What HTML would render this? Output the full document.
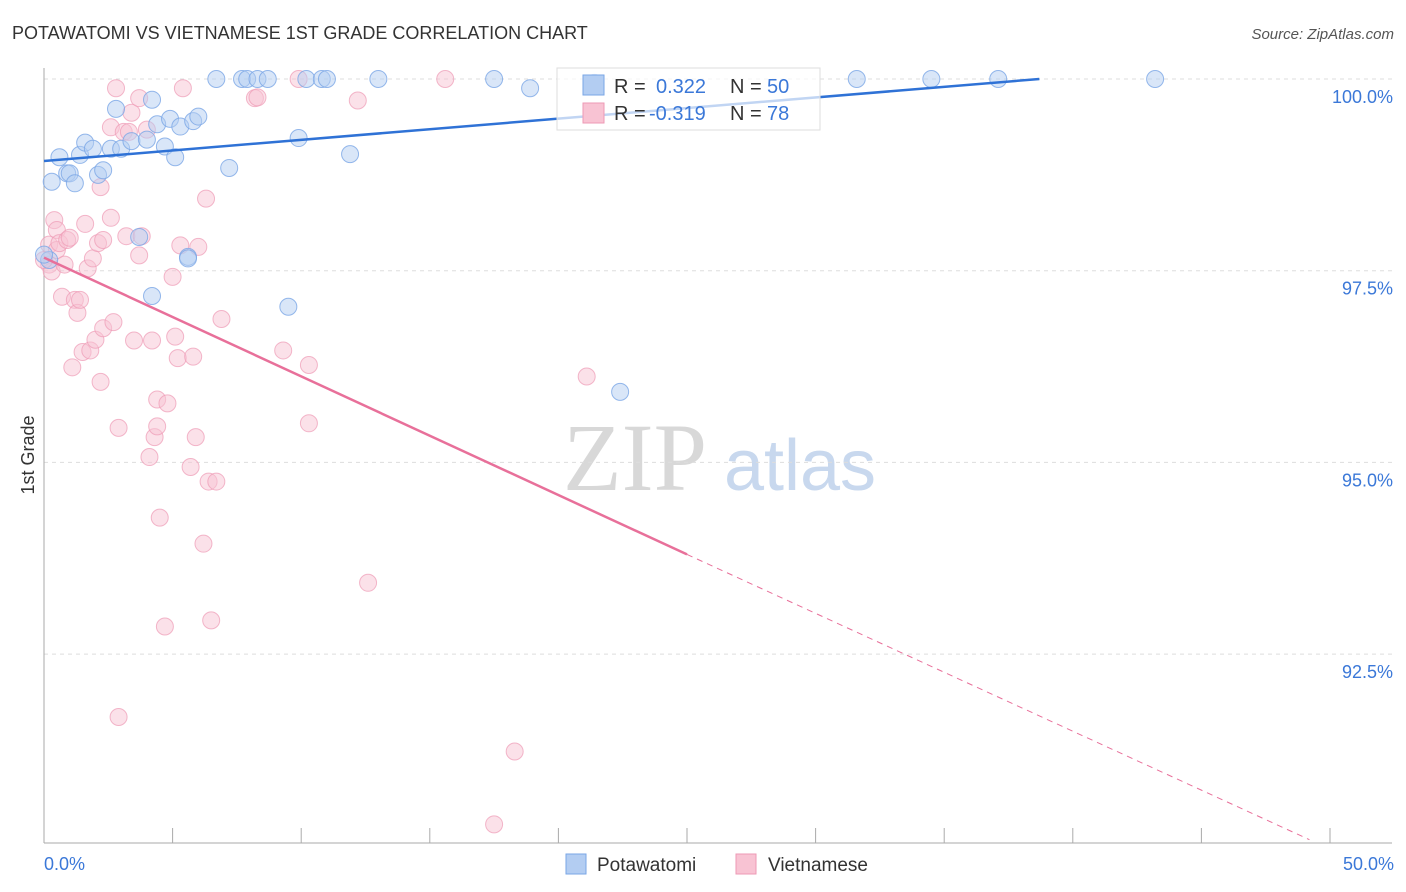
<!DOCTYPE html>
<html><head><meta charset="utf-8"><style>
body{margin:0;background:#fff;font-family:"Liberation Sans",sans-serif;}
svg{display:block}
</style></head><body>
<svg id="chart" width="1406" height="892">
<text x="12" y="39" font-size="18" fill="#333">POTAWATOMI VS VIETNAMESE 1ST GRADE CORRELATION CHART</text>
<text x="1394" y="39" font-size="15" fill="#555" font-style="italic" text-anchor="end">Source: ZipAtlas.com</text>
<text x="635" y="490" font-size="96" fill="#d8d8d8" text-anchor="middle" font-family="Liberation Serif,serif">ZIP</text>
<text x="800" y="490" font-size="72" fill="#c8d8ee" text-anchor="middle">atlas</text>
<text transform="translate(34,455) rotate(-90)" font-size="18" fill="#333" text-anchor="middle">1st Grade</text>
<g id="grid"></g><g id="marks"></g>
<g>
<rect x="557" y="68" width="263" height="62" fill="#fff" fill-opacity="0.7" stroke="#ddd"/>
<rect x="583" y="75" width="21" height="20" fill="#b3cdf2" stroke="#7aa6e6"/>
<rect x="583" y="103" width="21" height="20" fill="#f8c3d3" stroke="#ee9ab5"/>
<text x="614" y="93" font-size="20" fill="#333">R = </text><text x="656" y="93" font-size="20" fill="#3b78d8">0.322</text>
<text x="730" y="93" font-size="20" fill="#333">N = </text><text x="767" y="93" font-size="20" fill="#3b78d8">50</text>
<text x="614" y="120" font-size="20" fill="#333">R = </text><text x="649" y="120" font-size="20" fill="#3b78d8">-0.319</text>
<text x="730" y="120" font-size="20" fill="#333">N = </text><text x="767" y="120" font-size="20" fill="#3b78d8">78</text>
</g>
<g>
<rect x="566" y="854" width="20" height="20" fill="#b3cdf2" stroke="#7aa6e6"/>
<text x="597" y="871" font-size="19" fill="#333">Potawatomi</text>
<rect x="736" y="854" width="20" height="20" fill="#f8c3d3" stroke="#ee9ab5"/>
<text x="768" y="871" font-size="19" fill="#333">Vietnamese</text>
</g>
</svg>
<script>
const yTicks=[100,97.5,95,92.5];
const yTickLabels=["100.0%","97.5%","95.0%","92.5%"];
const xLabels=["0.0%","50.0%"];
const blueX=[0.3,0.6,0.9,1.0,1.2,1.4,1.6,1.9,2.1,2.3,2.6,2.8,3.0,3.4,3.7,4.0,4.2,4.2,4.4,4.7,4.9,5.1,5.3,5.6,5.8,6.0,6.7,7.2,7.7,7.9,8.3,8.7,9.5,9.9,10.2,10.8,11.0,11.9,13.0,17.5,18.9,21.4,22.4,31.6,34.5,37.1,43.2,0.2,0.0,5.6];
const blueY=[98.66,98.98,98.77,98.77,98.64,99.01,99.17,99.09,98.75,98.81,99.09,99.61,99.09,99.19,97.94,99.21,99.73,97.17,99.41,99.12,99.48,98.98,99.38,97.68,99.45,99.51,100,98.84,100,100,100,100,97.03,99.23,100,100,100,99.02,100,100,99.88,99.95,95.92,100,100,100,100,97.64,97.71,97.66];
const pinkX=[0.2,0.2,0.3,0.4,0.5,0.5,0.6,0.7,0.8,0.9,1.0,1.1,1.2,1.3,1.4,1.5,1.6,1.7,1.8,1.9,2.0,2.1,2.2,2.2,2.3,2.3,2.6,2.6,2.7,2.8,2.9,2.9,3.1,3.2,3.3,3.4,3.5,3.7,3.7,3.8,4.0,4.1,4.2,4.3,4.4,4.4,4.5,4.7,4.8,5.0,5.1,5.2,5.3,5.4,5.7,5.8,5.9,6.0,6.2,6.3,6.4,6.5,6.7,6.9,8.2,8.3,9.3,9.9,10.3,10.3,12.2,12.6,15.6,17.5,18.3,21.1,0.0];
const pinkY=[97.84,97.58,97.49,98.16,98.03,97.77,97.86,97.16,97.58,97.90,97.93,96.24,97.12,96.95,97.12,96.44,98.11,97.53,96.46,97.66,96.60,97.86,98.59,96.05,96.75,97.90,99.37,98.19,96.83,99.88,95.45,91.68,99.31,97.95,99.31,99.56,96.59,97.70,99.75,97.95,99.34,95.07,96.59,95.33,95.82,95.47,94.28,92.86,95.77,97.42,96.64,96.36,97.83,99.88,94.94,96.38,95.33,97.81,93.94,98.44,94.75,92.94,94.75,96.87,99.75,99.76,96.46,100,96.27,95.51,99.72,93.43,100,90.28,91.23,96.12,97.64];
const blueTrend=[[0,98.93],[38.7,100]];
const pinkTrend=[[0,97.67],[25,93.8],[49.2,90.08]];
const X=v=>44+v*25.72, Y=v=>79+(100-v)*76.68;
const NS="http://www.w3.org/2000/svg";
const g=document.getElementById('grid'),m=document.getElementById('marks');
function el(p,t,a){const e=document.createElementNS(NS,t);for(const k in a)e.setAttribute(k,a[k]);p.appendChild(e);return e;}
yTicks.forEach((t,i)=>{
 const l=el(g,'line',{x1:44,x2:1392,y1:Y(t),y2:Y(t),stroke:'#ddd','stroke-dasharray':'4,4'});
 
 
 const tx=el(g,'text',{x:1393,y:Y(t)+24,'font-size':18,fill:'#3b78d8','text-anchor':'end'});tx.textContent=yTickLabels[i];
 
 
});
const ax=el(g,'line',{x1:44,x2:1392,y1:843,y2:843,stroke:'#aaa'});


const ay=el(g,'line',{x1:44,x2:44,y1:68,y2:843,stroke:'#aaa'});


for(let i=0;i<=10;i++){const t=el(g,'line',{x1:X(i*5),x2:X(i*5),y1:828,y2:843,stroke:'#aaa'});
 
 }
[[0,'start',44],[50,'end',1394]].forEach((d,i)=>{const t=el(g,'text',{x:d[2],y:870,'font-size':18,fill:'#3b78d8','text-anchor':d[1]});t.textContent=xLabels[i];
 
 });
pinkX.forEach((x,i)=>{const c=el(m,'circle',{cx:X(x),cy:Y(pinkY[i]),r:8.5,fill:'#f8c3d3','fill-opacity':0.5,stroke:'#ee9ab5','stroke-opacity':0.7});
 
 });
blueX.forEach((x,i)=>{const c=el(m,'circle',{cx:X(x),cy:Y(blueY[i]),r:8.5,fill:'#b3cdf2','fill-opacity':0.5,stroke:'#7aa6e6','stroke-opacity':0.8});
 
 });
const bt=el(m,'line',{x1:X(blueTrend[0][0]),y1:Y(blueTrend[0][1]),x2:X(blueTrend[1][0]),y2:Y(blueTrend[1][1]),stroke:'#2f72d6','stroke-width':2.5});


const pt=el(m,'line',{x1:X(pinkTrend[0][0]),y1:Y(pinkTrend[0][1]),x2:X(pinkTrend[1][0]),y2:Y(pinkTrend[1][1]),stroke:'#e8709a','stroke-width':2.5});


const pd=el(m,'line',{x1:X(pinkTrend[1][0]),y1:Y(pinkTrend[1][1]),x2:X(pinkTrend[2][0]),y2:Y(pinkTrend[2][1]),stroke:'#e8709a','stroke-width':1,'stroke-dasharray':'6,5'});


</script>
</body></html>
